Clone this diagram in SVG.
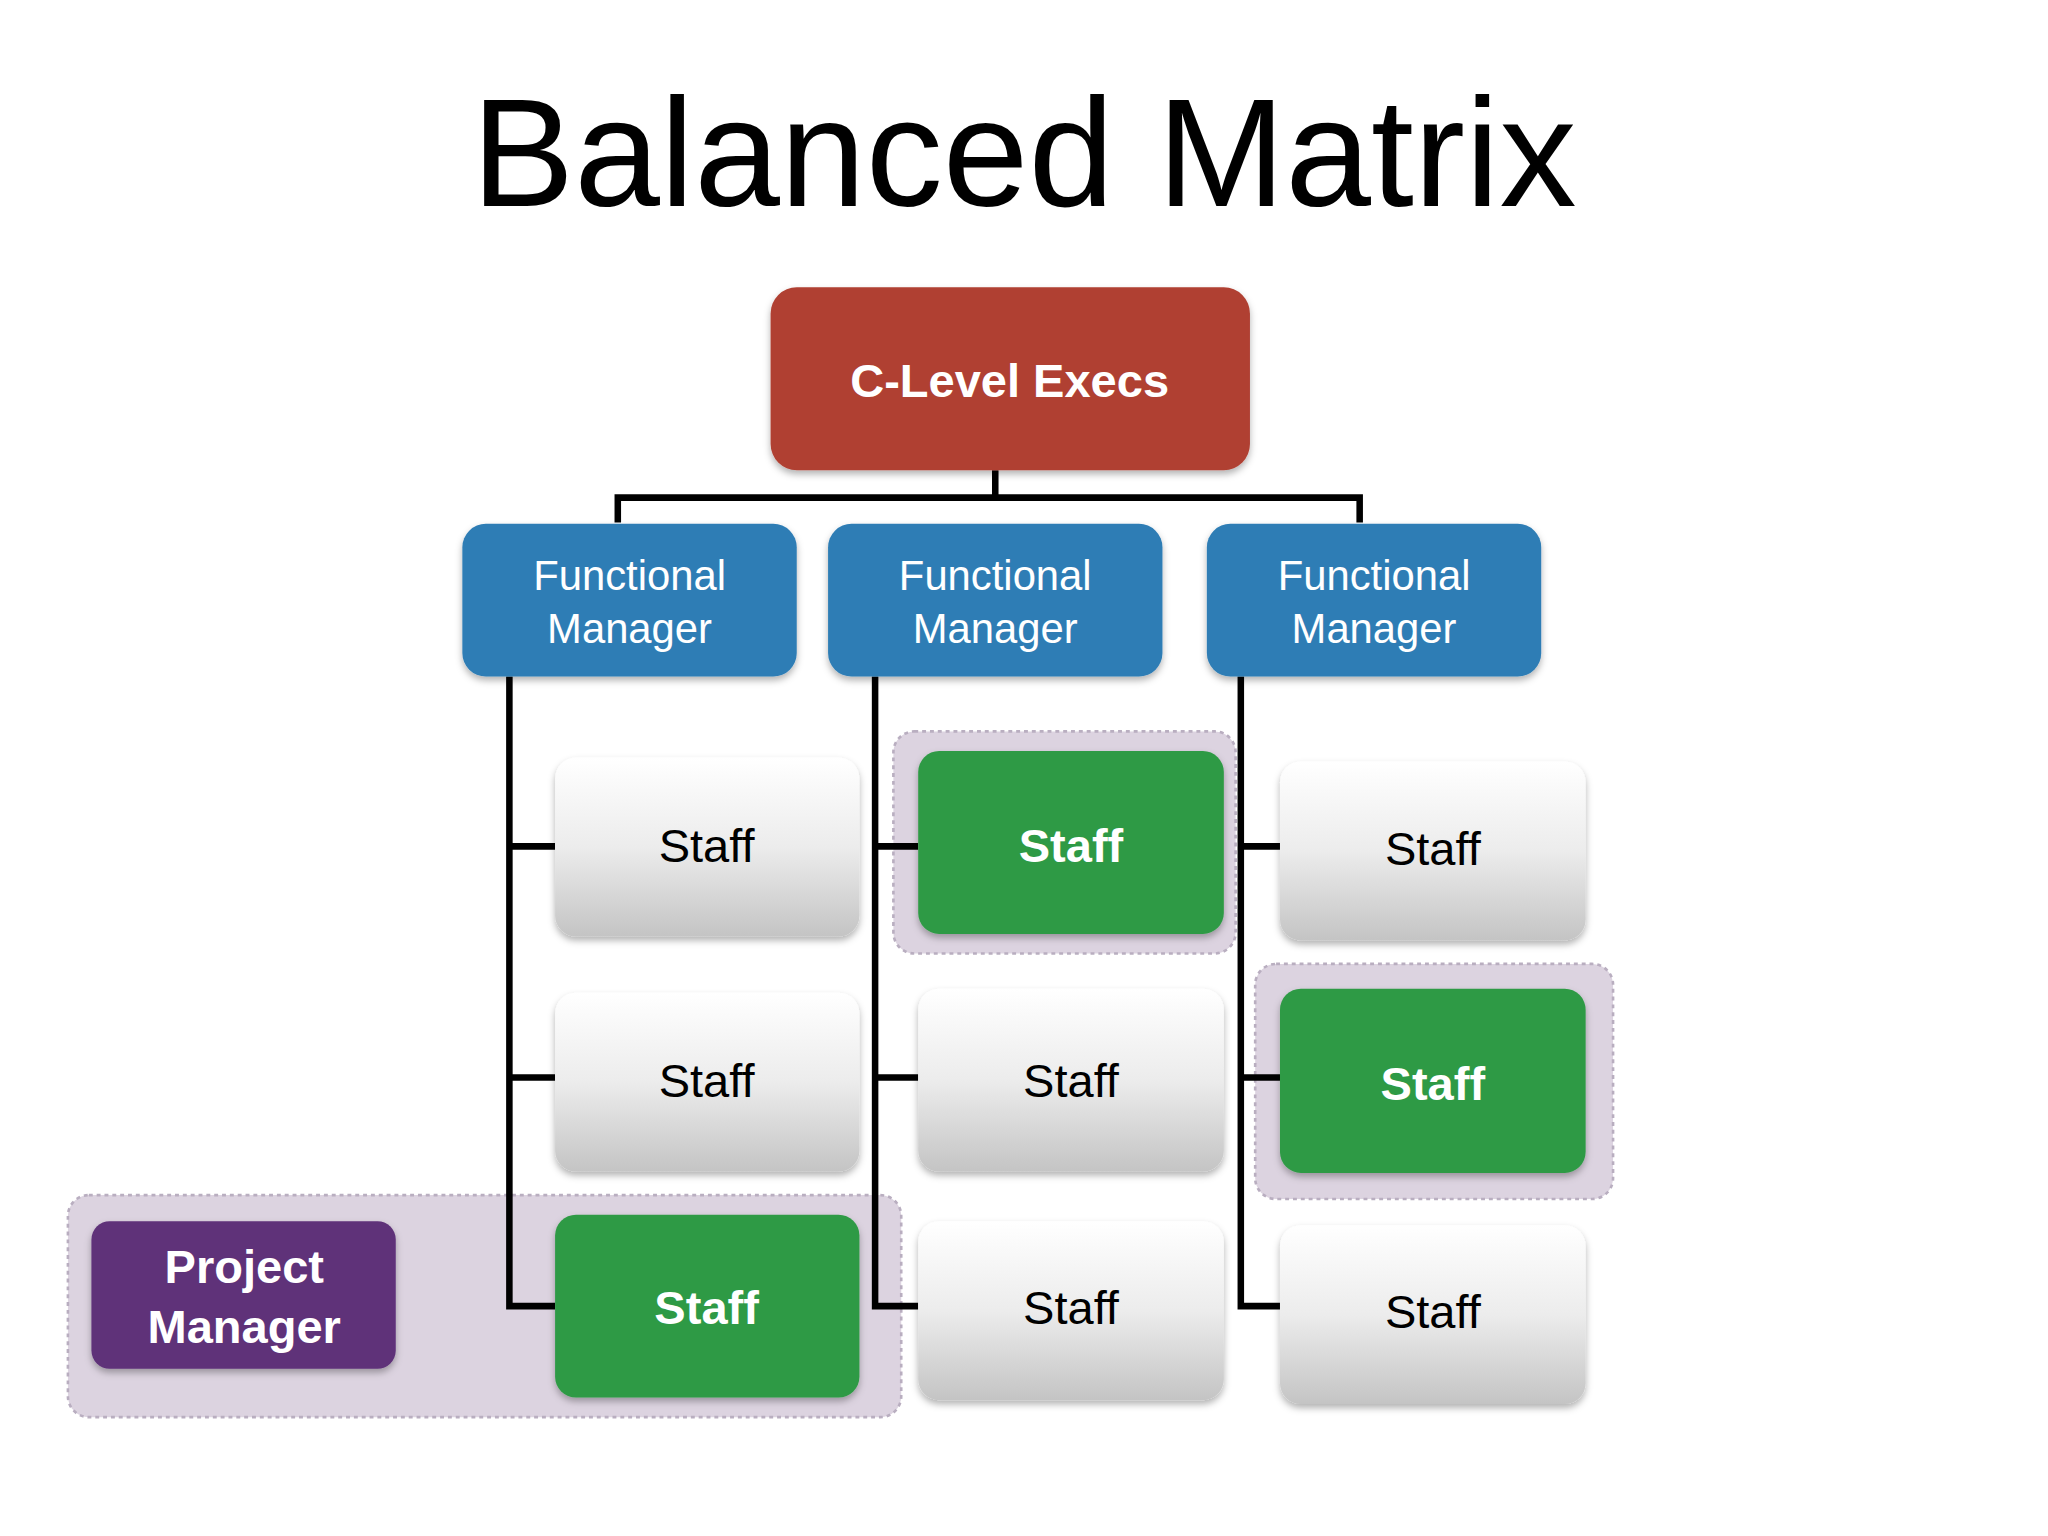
<svg xmlns="http://www.w3.org/2000/svg" width="2048" height="1536" viewBox="0 0 2048 1536">
<defs>
<linearGradient id="g" x1="0" y1="0" x2="0" y2="1"><stop offset="0" stop-color="#ffffff"/><stop offset="0.5" stop-color="#ececec"/><stop offset="1" stop-color="#c4c4c4"/></linearGradient>
<filter id="sh" x="-10%" y="-10%" width="120%" height="130%"><feDropShadow dx="0" dy="3" stdDeviation="3" flood-opacity="0.3"/></filter>
</defs>
<style>
.t{font-family:"Liberation Sans",Arial,sans-serif;text-anchor:middle}
.w{fill:#fff}
.s{fill:url(#g);filter:url(#sh)}
.gr{fill:#2f9a45;filter:url(#sh)}
.fm{fill:#2e7db5;filter:url(#sh)}
.hl{fill:#dcd3e0;stroke:#b9aec0;stroke-width:2;stroke-dasharray:3 3}
.c{fill:none;stroke:#000;stroke-width:5}
</style>
<rect width="2048" height="1536" fill="#fff"/>
<g transform="scale(1.30612)">
<text class="t" x="784" y="158" font-size="118">Balanced Matrix</text>
<g id="highlights">
<rect class="hl" x="52" y="915" width="638" height="170" rx="16"/>
<rect class="hl" x="684" y="560" width="262" height="170" rx="16"/>
<rect class="hl" x="961" y="738" width="274" height="180" rx="16"/>
</g>
<g id="connectors">
<path class="c" d="M762 360V381M473 400V381H1041V400"/>
<path class="c" d="M390 518V1000H425M390 648H425M390 825H425"/>
<path class="c" d="M670 518V1000H703M670 648H703M670 825H703"/>
<path class="c" d="M950 518V1000H980M950 648H980M950 825H980"/>
</g>
<g id="clevel"><rect x="590" y="220" width="367" height="140" rx="20" fill="#b04133" filter="url(#sh)"/><text class="t w" x="773" y="304" font-size="36" font-weight="bold">C-Level Execs</text></g>
<g id="fm1"><rect class="fm" x="354" y="401" width="256" height="117" rx="18"/><text class="t w" x="482" y="452" font-size="32">Functional</text><text class="t w" x="482" y="492" font-size="32">Manager</text></g>
<g id="fm2"><rect class="fm" x="634" y="401" width="256" height="117" rx="18"/><text class="t w" x="762" y="452" font-size="32">Functional</text><text class="t w" x="762" y="492" font-size="32">Manager</text></g>
<g id="fm3"><rect class="fm" x="924" y="401" width="256" height="117" rx="18"/><text class="t w" x="1052" y="452" font-size="32">Functional</text><text class="t w" x="1052" y="492" font-size="32">Manager</text></g>
<g id="s11"><rect class="s" x="425" y="580" width="233" height="137" rx="16"/><text class="t" x="541" y="660" font-size="36">Staff</text></g>
<g id="s12"><rect class="s" x="425" y="760" width="233" height="137" rx="16"/><text class="t" x="541" y="840" font-size="36">Staff</text></g>
<g id="s13"><rect class="gr" x="425" y="930" width="233" height="140" rx="16"/><text class="t w" x="541" y="1014" font-size="36" font-weight="bold">Staff</text></g>
<g id="s21"><rect class="gr" x="703" y="575" width="234" height="140" rx="16"/><text class="t w" x="820" y="660" font-size="36" font-weight="bold">Staff</text></g>
<g id="s22"><rect class="s" x="703" y="757" width="234" height="140" rx="16"/><text class="t" x="820" y="840" font-size="36">Staff</text></g>
<g id="s23"><rect class="s" x="703" y="935" width="234" height="137" rx="16"/><text class="t" x="820" y="1014" font-size="36">Staff</text></g>
<g id="s31"><rect class="s" x="980" y="583" width="234" height="137" rx="16"/><text class="t" x="1097" y="662" font-size="36">Staff</text></g>
<g id="s32"><rect class="gr" x="980" y="757" width="234" height="141" rx="16"/><text class="t w" x="1097" y="842" font-size="36" font-weight="bold">Staff</text></g>
<g id="s33"><rect class="s" x="980" y="938" width="234" height="137" rx="16"/><text class="t" x="1097" y="1017" font-size="36">Staff</text></g>
<g id="pm"><rect x="70" y="935" width="233" height="113" rx="14" fill="#5f3279" filter="url(#sh)"/><text class="t w" x="187" y="982" font-size="36" font-weight="bold">Project</text><text class="t w" x="187" y="1028" font-size="36" font-weight="bold">Manager</text></g>
</g>
</svg>
